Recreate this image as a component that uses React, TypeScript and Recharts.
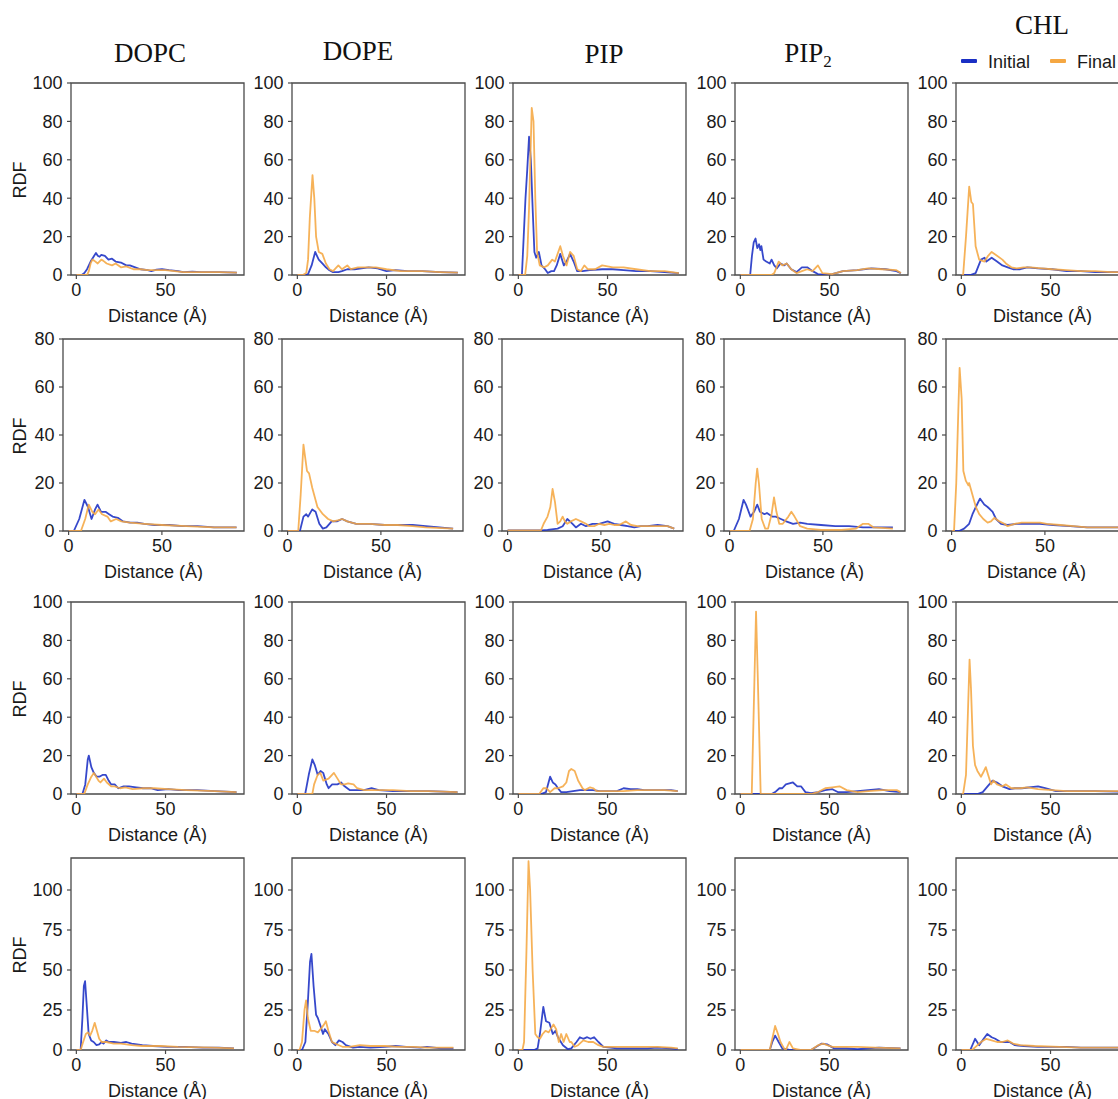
import React from 'react';
import { LineChart, Line, XAxis, YAxis, ReferenceArea } from 'recharts';

type Pt = [number, number];

// ---------- Row 1 ----------
const DOPC_R1_INI: Pt[] = [[0,0],[3,0],[4.5,1],[6,3],[8,7],[10,10],[11,11.5],[12,10],[13,9.5],[14,10.5],[16,10],[18,8],[20,8.5],[22,7],[25,6.5],[28,5],[30,5],[33,4],[36,3],[40,2.5],[42,2],[45,2.8],[48,3],[52,2.5],[57,2],[60,1.5],[65,1.8],[70,1.5],[80,1.5],[90,1.2]];
const DOPC_R1_FIN: Pt[] = [[0,0],[6,0],[7,2],[8,6],[9,8],[10,7.5],[12,6],[14,8],[15,7.5],[17,6],[20,5],[22,6],[25,4],[28,4.5],[32,3],[36,3],[40,2.5],[45,2.5],[50,2.5],[55,2],[60,1.5],[70,1.5],[80,1.5],[90,1.2]];
const DOPE_R1_INI: Pt[] = [[0,0],[5,0],[6,0.5],[8,5],[10,12],[11,10],[12,8],[14,6],[16,4],[18,2.5],[20,1.5],[23,1.5],[25,2],[28,3],[32,3],[36,3.5],[40,4],[45,3.5],[50,2],[55,2.5],[62,2],[70,2],[80,1.5],[90,1.2]];
const DOPE_R1_FIN: Pt[] = [[0,0],[3,0],[5,1],[6,8],[7,30],[8.5,52],[9.5,40],[10.5,20],[12,12],[14,11],[16,6],[18,3],[20,2],[23,5],[25,3],[28,5],[30,3],[34,4],[38,4],[44,4],[50,3],[58,2],[70,2],[80,1.5],[90,1.2]];
const PIP_R1_INI: Pt[] = [[0,0],[2,0],[3,20],[4,40],[5,55],[6,72],[7,60],[8,35],[9,12],[10,9],[11.5,12],[13,5],[15,3],[16.5,1],[18.5,2],[20,2],[21.5,5],[23.5,11],[25.5,5],[27,7],[29,11],[31,7],[33,2],[36,2],[40,2.5],[47,3],[53,3],[59,2.5],[66,2],[74,2],[82,1.5],[90,1]];
const PIP_R1_FIN: Pt[] = [[0,0],[3.8,0],[5,10],[6,35],[7.5,87],[8.5,80],[9.5,40],[10.5,12],[12,5],[14.5,4],[16.5,5],[19,8],[20.5,7],[23.5,15],[25,10],[27,5],[29,12],[31,10],[33,3],[35,2],[37,5],[39,3],[43,3],[47,5],[53,4],[59,4],[66,3],[74,2],[82,2],[90,1]];
const PIP2_R1_INI: Pt[] = [[0,0],[5.5,0],[6.5,10],[7.5,17],[8.5,19],[9.5,14],[10.5,16],[11.2,13],[11.8,15],[13,8],[14.5,7],[16.5,6],[17.5,8],[19,5],[20.5,3.5],[22.5,6],[24.5,5],[26,6],[28.5,3],[31.5,1.5],[34.5,4],[37.5,4],[40.5,2],[43.5,0.5],[47,0.3],[51.5,0.5],[57.5,2],[65.5,2.5],[73.5,3.5],[81.5,3],[87.5,2],[90,1]];
const PIP2_R1_FIN: Pt[] = [[0,0],[17.5,0],[19,1],[21.5,7],[23.5,5],[26,6],[28.5,3],[31.5,1],[34.5,2],[37.5,3],[40.5,2],[43.5,5],[46,1],[51.5,0.5],[57.5,2],[65.5,2.5],[71.5,3.5],[79.5,3],[87.5,2.5],[90,1]];
const CHL_R1_INI: Pt[] = [[0,0],[5,0],[8,1],[11,8],[13,9],[14,7],[17,9],[20,7],[23,5],[26,4],[29,3],[33,3],[37,4],[43,3.5],[51,3],[59,2],[67,2],[75,1.5],[90,1.5]];
const CHL_R1_FIN: Pt[] = [[0,0],[1,0],[2.6,20],[4.4,46],[5.6,38],[6.5,37],[8,15],[10,8],[13,7],[15,10],[17,12],[20,10],[23,8],[25,6],[28,4],[31,3.5],[35,4],[39,4],[45,3.5],[51,3],[59,2.5],[67,2],[75,2],[84,1.5],[90,1.5]];

// ---------- Row 2 ----------
const DOPC_R2_INI: Pt[] = [[0,0],[2.8,0],[5.7,5],[8.5,13],[10.4,10],[12.3,5],[14.2,9],[15.5,11],[17.4,8],[19.8,8],[21.7,7],[23.6,6],[26.4,5.5],[29.2,4],[33,3.5],[36.8,3.5],[40.6,3],[46,2.5],[54,2.5],[61,2],[69,2],[78,1.5],[90,1.5]];
const DOPC_R2_FIN: Pt[] = [[0,0],[6.6,0],[8.9,5],[10.8,11],[12.7,8],[14.2,7],[16,9],[17.9,7],[20.8,6],[22.6,4],[25.5,5],[28.3,4],[33,3.5],[40.6,3],[50,2.5],[63,2],[78,1.5],[90,1.5]];
const DOPE_R2_INI: Pt[] = [[0,0],[6.6,0],[8.5,6],[10,7],[11,6],[13.2,9],[15,8],[17,3],[18.9,1],[20.8,1.5],[23.6,4],[26.4,4],[29.2,5],[32,4],[36.8,3],[44,3],[52,2.5],[59,2.5],[67,2.5],[74,2],[88.7,1]];
const DOPE_R2_FIN: Pt[] = [[0,0],[5.7,0],[7,15],[8.5,36],[10.4,25],[11.5,24],[13.2,18],[16,10],[18.9,7],[21.7,5],[24.5,4],[27.4,4.5],[29.2,5],[32,4],[36.8,3],[44,3],[52,2.5],[59,2.5],[67,2],[74,1.5],[88.7,1]];
const PIP_R2_INI: Pt[] = [[0,0.3],[18,0.3],[21.4,0.5],[26.8,1],[29.5,2],[32,5],[34.8,3],[36.6,1.5],[39.3,3],[42,2],[45.5,3],[49.1,3],[53.6,4],[57.1,3],[60.7,2.5],[64.3,2],[67.9,1.5],[71.4,2],[75,2],[80.4,2.5],[85.7,2],[89.3,1]];
const PIP_R2_FIN: Pt[] = [[0,0.3],[17.9,0.3],[19.3,3],[21.4,6],[22.9,10],[24.1,17.5],[25.4,12],[26.8,3],[28.2,4],[29.5,6],[30.7,4],[32,3],[33.9,4],[36.6,5],[39.3,4],[42,3],[43.8,2],[46.4,2],[49.1,3],[51.8,2.5],[54.5,3],[57.1,2.5],[59.8,2.5],[63.4,4],[66.1,2.5],[69.6,2],[75,2],[80.4,2],[85.7,2],[89.3,1]];
const PIP2_R2_INI: Pt[] = [[0,0],[2.2,0],[5,5],[7.5,13],[8.8,11],[11.2,6],[13.1,8],[14.8,11],[16.3,8],[18.7,7],[20,7.5],[22.8,6],[24.7,6],[27.5,5],[30.3,4],[34,3],[37.8,3.5],[41.6,3],[49,2.5],[56.6,2],[64,2],[71.5,1.5],[79,1.5],[87.5,1.5]];
const PIP2_R2_FIN: Pt[] = [[0,0],[10.7,0],[12.5,5],[14,20],[14.8,26],[15.7,20],[17.2,5],[19.1,1],[20.6,1],[22.5,7],[23.8,14],[25.1,8],[26.6,3],[28.5,3],[31.5,6],[33.1,8],[34.8,6],[37.8,2],[41.6,1],[49,0.5],[60,0.5],[67.8,1],[71.5,3],[74.3,3],[77.2,1.5],[87.5,1]];
const CHL_R2_INI: Pt[] = [[0,0],[4,0],[6.7,1],[9.4,3],[11.2,7],[13,10],[15.2,13.5],[17.5,11],[19.3,10],[22,8],[23.8,5],[26.5,3],[30,2.5],[34.8,3],[40,3],[47.3,3],[54.5,2.5],[63.5,2],[72.6,1.5],[90,1.5]];
const CHL_R2_FIN: Pt[] = [[0,0],[1.3,0],[2.5,20],[3.6,50],[4.3,68],[5.4,55],[6.3,25],[7.6,21],[9,19],[9.4,20],[11.2,15],[13,10],[14.8,7],[17,5],[19.3,3.5],[21.1,4],[22.9,5.5],[25.6,4],[28.3,3],[30,2],[33.8,3],[37.5,3.5],[41.9,3.5],[47.3,3.5],[51,3],[58.2,2.5],[65.4,2],[72.6,1.5],[84.8,1.5],[90,1.5]];

// ---------- Row 3 ----------
const DOPC_R3_INI: Pt[] = [[0,0],[3.4,0],[5,5],[6.4,18],[7,20],[8.4,14],[9.8,11],[11.4,9],[12.9,9],[14.9,10],[16.5,10],[18.1,7],[19.5,5],[21.5,5],[23.5,3],[26.5,4],[29.5,4],[33.5,3.5],[37.5,3],[41.6,3],[45.6,2],[51.6,2.5],[57.6,2],[67.7,2],[77.7,1.5],[89.8,1]];
const DOPC_R3_FIN: Pt[] = [[0,0],[4.4,0],[6.4,5],[8.4,9],[9.8,11],[12.4,7],[13.5,6],[15.5,8],[17.1,6],[19.5,4],[21.5,4],[24.5,3],[27.5,3.5],[31.5,2.5],[37.5,3],[43.6,3],[51.6,2.5],[61.6,2],[77.7,1.5],[89.8,1]];
const DOPE_R3_INI: Pt[] = [[0,0],[4.4,0],[6.4,10],[8.4,18],[9.8,15],[11.4,10],[13,12],[14.5,11],[16.5,5],[17.5,3],[19.5,5],[22.5,5],[24.5,6],[26.5,4],[29.5,2],[33.5,2],[37.5,2],[41.6,3],[45.6,2],[53.6,1.5],[63.6,1.5],[73.6,1.5],[89.8,1]];
const DOPE_R3_FIN: Pt[] = [[0,0],[8.4,0],[9.4,5],[11.4,10],[12.9,11],[14.5,7],[17.5,8],[20.5,11],[22.5,8],[24.5,5],[26.5,5],[28.5,5.5],[31.5,5],[33.5,3],[37.5,2],[43.6,2],[53.6,2],[63.6,1.5],[73.6,1.5],[89.8,1]];
const PIP_R3_INI: Pt[] = [[0,0],[12.7,0],[15.5,1],[17.8,9],[19.3,6],[20.8,5],[22.2,3],[24,1],[26.9,1],[30.7,1.5],[34.5,2],[39.2,2],[42,2],[45.8,1.5],[51.5,1.5],[55.3,1.5],[59,3],[62.9,2.5],[66.7,2.5],[70.5,2],[74.2,2],[79.9,2],[85.6,2],[89.4,1.5]];
const PIP_R3_FIN: Pt[] = [[0,0],[11.7,0],[14,3],[15.9,3],[17.8,1],[20.3,3],[22.2,3],[25,4],[26.9,6],[28.4,12],[29.7,13],[31.6,12],[33.5,7],[36,3],[37.3,2],[40.2,3.5],[42,3],[43.9,1.5],[51.5,1.5],[59,1.5],[66.7,2],[74.2,2],[81.8,2],[89.4,1.5]];
const PIP2_R3_INI: Pt[] = [[0,0],[17.5,0],[19.5,1],[21.9,3],[23.5,3],[25.5,5],[29.5,6],[31.9,4],[34,4],[36.5,1],[39.6,0.5],[43.6,1],[47.6,2],[51.6,2.5],[54.6,1],[59.6,1],[65.7,1.5],[71.7,2],[77.7,2.5],[83.7,1.5],[89.8,1]];
const PIP2_R3_FIN: Pt[] = [[0,0],[6.4,0],[7.4,40],[8.8,95],[9.8,60],[11.4,0],[39.6,0],[43.6,1],[47.6,3],[51.6,3.5],[55.6,4],[59.6,2],[65.7,1],[71.7,1.5],[79.7,2],[87.7,2],[89.8,1]];
const CHL_R3_INI: Pt[] = [[0,0],[9,0],[12,1],[14.7,4],[17.5,7],[20,6],[23,4],[27,2.5],[30,3],[34,3],[43,4],[47,3],[53,1.5],[59,1.5],[75,1.5],[90,1.2]];
const CHL_R3_FIN: Pt[] = [[0,0],[1,0],[2.6,10],[3.6,40],[4.6,70],[5.4,55],[6.5,25],[7.7,15],[9,12],[11,9],[12.7,12],[13.7,14],[15,10],[16.7,5],[18,7],[20,5],[23,4],[25,5],[28,3],[33,3],[37,3.5],[43,2.5],[51,2],[59,1.5],[75,1.5],[90,1.5]];

// ---------- Row 4 ----------
const DOPC_R4_INI: Pt[] = [[0,0],[2.4,0],[3.4,20],[4.2,40],[4.9,43],[5.7,30],[6.9,10],[8.3,6],[9.7,5],[11.3,3],[12.8,3.5],[14.2,5],[15.2,4],[16.8,6],[18.2,5],[21,5],[25,4.5],[28,5],[31,4],[37,3],[43,2.5],[51,2],[61,2],[71,1.5],[80,1.5],[88.4,1]];
const DOPC_R4_FIN: Pt[] = [[0,0],[2.4,0],[3.8,5],[5.3,10],[6.5,11],[7.7,9],[8.9,12],[10.3,17],[11.3,13],[12.8,7],[14.2,5],[16.8,5],[21,4],[25,4],[31,3],[37,2.5],[47,2.5],[57,2],[77,1.5],[88.4,1]];
const DOPE_R4_INI: Pt[] = [[0,0],[2.6,0],[4.5,5],[5.9,30],[7.1,55],[7.9,60],[9.1,40],[10.5,22],[11.5,20],[13,15],[14.4,10],[15.4,13],[17.4,10],[19.4,5],[21.3,3],[23.3,6],[25.3,5],[27.2,3],[31.2,1.5],[35,2],[41,1.5],[49,2],[55,2.5],[61,2],[69,1.5],[72.7,2],[80.6,1],[87.5,1]];
const DOPE_R4_FIN: Pt[] = [[0,0],[1.2,0],[2.6,5],[4,25],[4.9,31],[5.9,20],[7.5,12],[9.5,12],[11.5,11],[13,13],[15,16],[16,18],[17.4,12],[19.4,5],[21.3,4],[23.3,3],[25.3,2],[29.2,2],[35,3],[41,2.5],[49,2.5],[57,2],[65,2],[72.7,1.5],[87.5,1.5]];
const PIP_R4_INI: Pt[] = [[0,0],[8.9,0],[10.8,1],[12.1,10],[14,27],[15.5,18],[17.4,17],[19.3,10],[20.8,12],[22.2,8],[25,3],[27.8,0.5],[29.7,1],[32.6,5],[34.5,8],[36.4,7],[38.6,8],[40.5,7],[42.4,8],[44.9,5],[47.7,2],[51.5,1.5],[55.3,1],[61,1],[66.7,1],[72.3,1],[78,1.5],[85.6,1],[89.4,0.5]];
const PIP_R4_FIN: Pt[] = [[0,0],[2.3,0],[3.2,5],[4.5,60],[5.7,118],[6.6,100],[8,50],[9.5,10],[10.8,8],[12.1,7],[13.6,10],[15.2,12],[17,11],[19.7,16],[21.2,13],[22.7,5],[24,10],[25.4,5],[26.9,10],[28.8,5],[29.7,5],[31.6,2],[33.5,3],[36.4,6],[39.2,5],[42,5],[44.9,3],[47.7,2],[53.4,2],[59.1,2],[66.7,2],[78,2],[85.6,1.5],[89.4,1]];
const PIP2_R4_INI: Pt[] = [[0,0],[16.5,0],[17.9,5],[19.5,9],[21.5,5],[23.5,1],[27.5,0],[39.6,0],[42.6,2],[45.6,4],[48.6,3.5],[52.6,1],[59.6,1],[65.7,0.5],[71.7,1],[77.7,1.5],[89.8,1]];
const PIP2_R4_FIN: Pt[] = [[0,0],[16.5,0],[17.5,5],[19.5,15],[21.1,10],[22.5,5],[24.5,1],[25.5,0],[27.5,5],[29.5,1],[33.5,0],[39.6,0],[43.6,3],[46.6,4],[48.6,3],[51.6,2],[57.6,2],[65.7,2],[75.7,1.5],[89.8,1]];
const CHL_R4_INI: Pt[] = [[0,0],[5,0],[7.7,7],[10,3],[12.5,7],[14.5,10],[17,8],[19,7],[22,5],[27,5],[30,3],[35,2.5],[43,2],[55.4,2],[59,2],[67,1.5],[75,1.5],[90,1.5]];
const CHL_R4_FIN: Pt[] = [[0,0],[6,0],[8,2],[11,5],[14,7],[17,6],[20,5],[23,5],[26,6],[29,4],[33,3],[41,2.5],[55,2],[67,1.5],[90,1.5]];

// ---------- Tables / axes ----------
const LIPIDS = ['DOPC', 'DOPE', 'PIP', 'PIP2', 'CHL'];
const SERIES = ['Initial', 'Final'];
const Y_MAX = [100, 80, 100, 120];
const Y_TICKS = [
  [0, 20, 40, 60, 80, 100],
  [0, 20, 40, 60, 80],
  [0, 20, 40, 60, 80, 100],
  [0, 25, 50, 75, 100],
];
const X_TICKS = [0, 50];
const X_DOMAIN: [number, number] = [-3, 94];

const GRID: [Pt[], Pt[]][][] = [
  [[DOPC_R1_INI, DOPC_R1_FIN], [DOPE_R1_INI, DOPE_R1_FIN], [PIP_R1_INI, PIP_R1_FIN], [PIP2_R1_INI, PIP2_R1_FIN], [CHL_R1_INI, CHL_R1_FIN]],
  [[DOPC_R2_INI, DOPC_R2_FIN], [DOPE_R2_INI, DOPE_R2_FIN], [PIP_R2_INI, PIP_R2_FIN], [PIP2_R2_INI, PIP2_R2_FIN], [CHL_R2_INI, CHL_R2_FIN]],
  [[DOPC_R3_INI, DOPC_R3_FIN], [DOPE_R3_INI, DOPE_R3_FIN], [PIP_R3_INI, PIP_R3_FIN], [PIP2_R3_INI, PIP2_R3_FIN], [CHL_R3_INI, CHL_R3_FIN]],
  [[DOPC_R4_INI, DOPC_R4_FIN], [DOPE_R4_INI, DOPE_R4_FIN], [PIP_R4_INI, PIP_R4_FIN], [PIP2_R4_INI, PIP2_R4_FIN], [CHL_R4_INI, CHL_R4_FIN]],
];

// ---------- Style / layout ----------
const COLORS: Record<string, string> = { Initial: '#1a2fc4', Final: '#f5a742' };
const SANS = '"Liberation Sans", Arial, Helvetica, sans-serif';
const SERIF = '"Liberation Serif", "Times New Roman", serif';
const FRAME = '#4a4a4a';
const TEXT = '#1a1a1a';

const ROW_TOP = [82.5, 338.5, 601.5, 857.5];
const PLOT_H = 192;
const COL_LEFT = [
  [71, 292, 513, 735, 956],
  [63, 282, 502, 724, 946],
  [71, 292, 513, 735, 956],
  [71, 292, 513, 735, 956],
];
const PLOT_W = [173, 181, 173, 173];
const AXIS_W = 60;
const TOP_PAD = 10;
const RIGHT_PAD = 10;
const XAXIS_H = 50;

const TITLES = [
  { x: 150, y: 54 },
  { x: 358, y: 52 },
  { x: 604, y: 54.5 },
  { x: 808, y: 54 },
  { x: 1042, y: 26 },
];
const LEGEND_X = [961, 1050];

const toObjs = (pts: Pt[]) => pts.map(([x, y]) => ({ x, y }));

function Panel({ row, col }: { row: number; col: number }) {
  const left = COL_LEFT[row][col];
  const top = ROW_TOP[row];
  const w = PLOT_W[row];
  const [ini, fin] = GRID[row][col];
  const seriesData = [toObjs(ini), toObjs(fin)];
  const tickStyle = { fontSize: 18, fill: TEXT, fontFamily: SANS };
  return (
    <div style={{ position: 'absolute', left: left - AXIS_W, top: top - TOP_PAD }}>
      <LineChart
        width={w + AXIS_W + RIGHT_PAD}
        height={PLOT_H + TOP_PAD + XAXIS_H}
        margin={{ top: TOP_PAD, right: RIGHT_PAD, bottom: 0, left: 0 }}
      >
        <XAxis
          dataKey="x"
          type="number"
          domain={X_DOMAIN}
          ticks={X_TICKS}
          interval={0}
          allowDataOverflow
          height={XAXIS_H}
          axisLine={false}
          tickSize={4}
          tickMargin={4.5}
          tickLine={{ stroke: FRAME, strokeWidth: 1.2 }}
          tick={tickStyle}
          label={{
            value: 'Distance (Å)',
            position: 'insideBottom',
            offset: 3,
            fontSize: 18,
            fill: TEXT,
            fontFamily: SANS,
          }}
        />
        <YAxis
          type="number"
          domain={[0, Y_MAX[row]]}
          ticks={Y_TICKS[row]}
          interval={0}
          allowDataOverflow
          width={AXIS_W}
          axisLine={false}
          tickSize={4}
          tickMargin={4.5}
          tickLine={{ stroke: FRAME, strokeWidth: 1.2 }}
          tick={tickStyle}
        />
        <ReferenceArea
          x1={X_DOMAIN[0]}
          x2={X_DOMAIN[1]}
          y1={0}
          y2={Y_MAX[row]}
          fill="#ffffff"
          fillOpacity={0}
          stroke={FRAME}
          strokeWidth={1.3}
          ifOverflow="visible"
        />
        {SERIES.map((s, i) => (
          <Line
            key={s}
            name={s}
            data={seriesData[i]}
            dataKey="y"
            type="linear"
            stroke={COLORS[s]}
            strokeOpacity={0.88}
            strokeWidth={1.8}
            strokeLinejoin="round"
            dot={false}
            activeDot={false}
            isAnimationActive={false}
          />
        ))}
      </LineChart>
    </div>
  );
}

function Title({ name, x, y }: { name: string; x: number; y: number }) {
  const isSub = name === 'PIP2';
  return (
    <div
      style={{
        position: 'absolute',
        left: x,
        top: y - 13.6,
        transform: 'translateX(-50%)',
        fontFamily: SERIF,
        fontSize: 27,
        lineHeight: 1,
        color: '#111',
        whiteSpace: 'nowrap',
      }}
    >
      {isSub ? (
        <>
          PIP
          <span style={{ fontSize: 17, position: 'relative', top: 5 }}>2</span>
        </>
      ) : (
        name
      )}
    </div>
  );
}

export default function App() {
  return (
    <div
      style={{
        position: 'absolute',
        left: 0,
        top: 0,
        width: 1118,
        height: 1099,
        overflow: 'hidden',
        background: '#ffffff',
      }}
    >
      {LIPIDS.map((name, c) => (
        <Title key={name} name={name} x={TITLES[c].x} y={TITLES[c].y} />
      ))}

      {/* legend */}
      {SERIES.map((s, i) => (
        <div key={s} style={{ position: 'absolute', left: LEGEND_X[i], top: 52.9, height: 18, whiteSpace: 'nowrap' }}>
          <div
            style={{
              position: 'absolute',
              left: 0,
              top: 6.5,
              width: 16,
              height: 4,
              borderRadius: 1,
              background: COLORS[s],
            }}
          />
          <div
            style={{
              position: 'absolute',
              left: 27,
              top: 0,
              fontFamily: SANS,
              fontSize: 18,
              lineHeight: 1,
              color: TEXT,
            }}
          >
            {s}
          </div>
        </div>
      ))}

      {/* RDF labels */}
      {ROW_TOP.map((t, r) => (
        <div
          key={'rdf' + r}
          style={{
            position: 'absolute',
            left: 20,
            top: t + PLOT_H / 2 + 1,
            transform: 'translate(-50%, -50%) rotate(-90deg)',
            fontFamily: SANS,
            fontSize: 18,
            lineHeight: 1,
            color: TEXT,
            whiteSpace: 'nowrap',
          }}
        >
          RDF
        </div>
      ))}

      {ROW_TOP.map((_, r) =>
        LIPIDS.map((name, c) => <Panel key={name + r} row={r} col={c} />)
      )}
    </div>
  );
}
